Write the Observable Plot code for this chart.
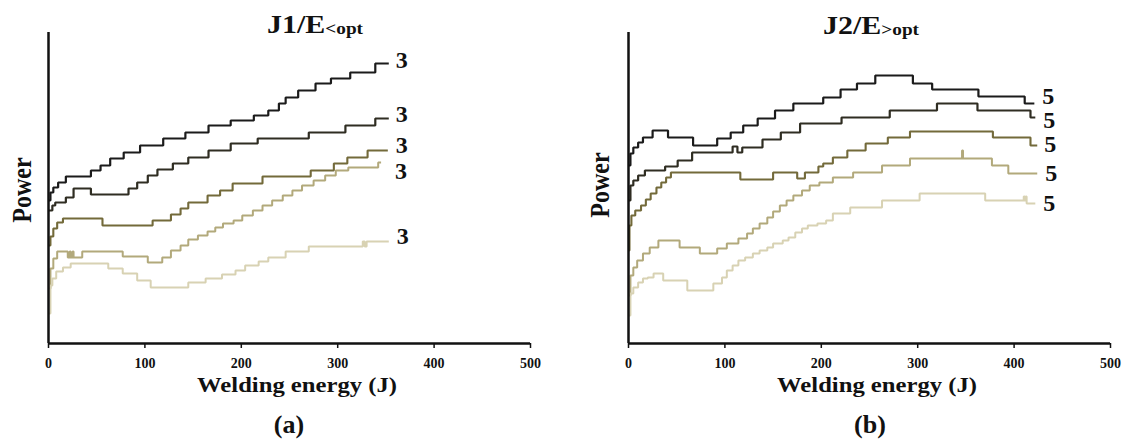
<!DOCTYPE html>
<html><head><meta charset="utf-8">
<script src="https://cdn.jsdelivr.net/npm/d3@7"></script>
<script src="https://cdn.jsdelivr.net/npm/@observablehq/plot@0.6"></script>
<style>
body{margin:0;background:#fff;}
#fig{position:relative;width:1129px;height:443px;overflow:hidden;font-family:"Liberation Serif","Times New Roman",serif;font-weight:bold;color:#111;}
.panel{position:absolute;top:0;}
.t{position:absolute;white-space:nowrap;line-height:1;}
.xlab{font-size:22px;transform:translate(-50%,-50%) scaleX(1.12);}
.plab{font-size:26px;transform:translate(-50%,-50%);}
.title{font-size:25px;transform-origin:0 0;transform:scaleX(1.2);}
.title span{font-size:16px;position:relative;top:1px;}
.ylab{font-size:24px;transform:translate(-50%,-50%) scaleX(1.15) rotate(-90deg);}
</style></head><body><div id="fig"></div><script>
// ---- data: [welding energy (J), power (a.u.)] step points ----
const xTicks = [0, 100, 200, 300, 400, 500];

// Panel (a) J1 / E<opt
const j1s1 = [[0,143],[2,151],[5,156],[10,161],[18,167],[44,173],[54,178],[64,185],[78,191],[95,198],[119,205],[142,211],[166,218],[189,223],[213,228],[228,233],[239,240],[246,246],[259,253],[277,260],[293,265],[313,271],[339,280],[353,280]];
const j1s2 = [[0,133],[4,138],[7,141],[18,146],[26,155],[44,149],[83,155],[92,161],[103,168],[113,174],[129,180],[145,186],[166,193],[189,200],[217,205],[270,211],[308,218],[339,225],[353,225]];
const j1s3 = [[0,98],[2,107],[5,115],[9,121],[15,125],[56,118],[108,123],[127,129],[137,135],[145,141],[165,148],[178,153],[191,160],[222,167],[272,173],[296,180],[310,186],[331,193],[352,193]];
const j1s4 = [[0,55],[2,75],[5,85],[9,92],[20,86],[22,92],[23,86],[25,92],[26,86],[35,92],[77,87],[103,81],[118,86],[127,93],[137,98],[145,104],[155,108],[165,112],[173,116],[181,120],[192,123],[201,128],[212,133],[222,138],[232,143],[243,148],[253,153],[263,158],[275,163],[287,168],[298,173],[311,176],[342,181],[345,181]];
const j1s5 = [[0,30],[2,58],[4,65],[8,72],[15,76],[23,80],[62,75],[77,70],[92,63],[106,56],[145,61],[163,65],[180,69],[194,73],[204,78],[218,82],[228,86],[246,92],[270,97],[326,102],[328,97],[330,102],[353,102]];
const j1Labels = ["3", "3", "3", "3", "3"];

// Panel (b) J2 / E>opt
const j2s1 = [[0,178],[2,190],[5,196],[10,201],[15,206],[25,213],[41,206],[67,198],[92,205],[106,211],[119,218],[134,225],[152,233],[171,240],[202,246],[220,254],[237,260],[256,268],[295,260],[315,254],[363,247],[411,240],[421,240]];
const j2s2 = [[0,143],[2,158],[5,163],[10,168],[17,173],[38,177],[51,183],[66,191],[108,197],[113,191],[118,196],[139,204],[158,211],[178,220],[221,226],[271,233],[320,240],[362,233],[417,226],[422,226]];
const j2s3 = [[0,93],[1,118],[3,128],[7,133],[13,138],[18,144],[23,150],[29,156],[34,161],[39,166],[44,171],[116,164],[150,171],[175,165],[183,171],[197,177],[202,180],[212,186],[227,193],[246,200],[269,206],[292,212],[378,206],[417,198],[424,198]];
const j2s4 = [[0,48],[2,68],[5,76],[9,83],[15,90],[22,96],[31,103],[53,96],[74,90],[92,95],[102,100],[114,105],[123,110],[129,115],[136,120],[144,126],[150,132],[157,138],[164,143],[171,148],[180,153],[188,158],[198,161],[212,166],[233,171],[263,178],[292,185],[346,193],[347,185],[377,178],[394,170],[424,170]];
const j2s5 = [[0,28],[2,50],[5,56],[10,61],[15,65],[20,66],[26,70],[36,63],[61,53],[88,60],[97,66],[102,73],[108,78],[114,83],[121,86],[129,90],[136,93],[144,96],[150,100],[160,103],[166,106],[173,111],[180,115],[186,118],[196,120],[205,123],[212,130],[230,136],[263,143],[302,150],[370,143],[410,147],[411,143],[412,147],[413,140],[422,140]];
const j2Labels = ["5", "5", "5", "5", "5"];

// ---- styles ----
const colors = ["#1b1b1b", "#2f2d22", "#736a3a", "#b2a97b", "#d8d2b3"];
const widths = [2.2, 2.2, 2.1, 2, 2];
const j1LabelOffsets = [[13,-3],[13,-4],[14,-5],[20,9],[14,-5]];
const j2LabelOffsets = [[14,-7],[14,3],[13,-1],[14,0],[14,0]];

function panel(series, labels, offsets) {
  const marks = [];
  series.forEach((s, i) => {
    marks.push(Plot.line(s, {x: d => d[0], y: d => d[1], curve: "step-after",
      stroke: colors[i], strokeWidth: widths[i], strokeLinejoin: "miter", strokeLinecap: "butt"}));
  });
  series.forEach((s, i) => {
    marks.push(Plot.text([s[s.length - 1]], {x: d => d[0], y: d => d[1], text: () => labels[i],
      dx: offsets[i][0], dy: offsets[i][1], fontSize: 24, fontWeight: "bold", fill: "#111",
      fontFamily: "'Liberation Serif', 'Times New Roman', serif"}));
  });
  marks.push(Plot.ruleX([0], {stroke: "#111", strokeWidth: 2.5}));
  marks.push(Plot.ruleY([0], {stroke: "#111", strokeWidth: 2.5}));
  marks.push(Plot.axisX({ticks: xTicks, tickSize: 5, tickPadding: 10, strokeWidth: 1.5,
    fontSize: 14, fontWeight: "bold", fill: "#111", fontFamily: "'Liberation Serif', 'Times New Roman', serif", tickFormat: d => String(d)}));
  return Plot.plot({
    width: 565, height: 380,
    marginLeft: 48, marginRight: 35, marginTop: 32, marginBottom: 37,
    x: {domain: [0, 500]},
    y: {domain: [0, 311], axis: null},
    style: {background: "transparent", fontFamily: "'Liberation Serif', 'Times New Roman', serif", fontWeight: "bold", fontSize: "14px", color: "#111"},
    marks
  });
}

const fig = document.getElementById("fig");
function addDiv(cls, html, left, top) {
  const d = document.createElement("div");
  d.className = "t " + cls;
  d.innerHTML = html;
  d.style.left = left + "px";
  d.style.top = top + "px";
  fig.appendChild(d);
}

const pA = panel([j1s1, j1s2, j1s3, j1s4, j1s5], j1Labels, j1LabelOffsets);
pA.classList.add("panel"); pA.style.left = "0px";
fig.appendChild(pA);
const pB = panel([j2s1, j2s2, j2s3, j2s4, j2s5], j2Labels, j2LabelOffsets);
pB.classList.add("panel"); pB.style.left = "580px";
fig.appendChild(pB);

addDiv("title", "J1/E<span>&lt;opt</span>", 267, 12);
addDiv("title", "J2/E<span>&gt;opt</span>", 823, 13);
addDiv("ylab", "Power", 22, 190);
addDiv("ylab", "Power", 600, 185);
addDiv("xlab", "Welding energy (J)", 297, 385);
addDiv("xlab", "Welding energy (J)", 877, 385);
addDiv("plab", "(a)", 289, 425);
addDiv("plab", "(b)", 870, 425);
</script></body></html>
